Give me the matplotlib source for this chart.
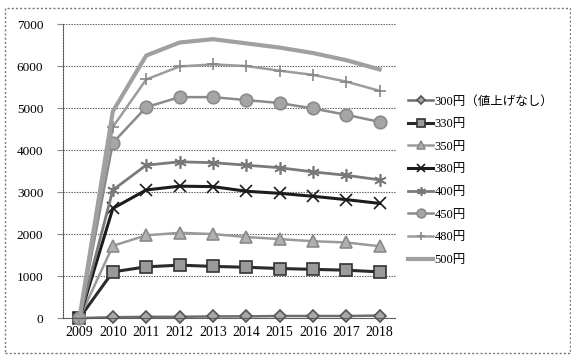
import matplotlib
matplotlib.use("Agg")
from matplotlib import pyplot as plt
from matplotlib.patches import Rectangle

plt.rcParams['font.family'] = ['Liberation Serif', 'Noto Sans CJK JP']

# Data
years = ["2009", "2010", "2011", "2012", "2013", "2014", "2015", "2016", "2017", "2018"]
labels = ["300円（値上げなし）", "330円", "350円", "380円", "400円", "450円", "480円", "500円"]
p300 = [0, 20, 30, 30, 40, 40, 50, 50, 50, 60]
p330 = [0, 1100, 1220, 1260, 1230, 1210, 1180, 1160, 1140, 1100]
p350 = [0, 1720, 1970, 2030, 2000, 1930, 1880, 1830, 1800, 1710]
p380 = [0, 2610, 3050, 3140, 3130, 3020, 2970, 2900, 2820, 2730]
p400 = [0, 3050, 3640, 3720, 3700, 3640, 3580, 3480, 3400, 3290]
p450 = [0, 4170, 5020, 5260, 5260, 5190, 5120, 4990, 4840, 4670]
p480 = [0, 4550, 5680, 5990, 6040, 6000, 5890, 5790, 5630, 5410]
p500 = [0, 4920, 6250, 6560, 6640, 6540, 6440, 6310, 6140, 5920]
yticks = [0, 1000, 2000, 3000, 4000, 5000, 6000, 7000]

series = [p300, p330, p350, p380, p400, p450, p480, p500]
# (line colour, marker, marker size, marker face, marker edge, line width)
styles = [
    ("#6e6e6e", "D", 6, "#a8a8a8", "#555555", 1.8),
    ("#2a2a2a", "s", 8, "#9a9a9a", "#333333", 2.2),
    ("#9a9a9a", "^", 8, "#b0b0b0", "#8a8a8a", 1.8),
    ("#1c1c1c", "x", 8, "#1c1c1c", "#1c1c1c", 2.2),
    ("#7a7a7a", (6, 2, 0), 9, "#777777", "#777777", 2.0),
    ("#8a8a8a", "o", 9, "#a5a5a5", "#8a8a8a", 1.8),
    ("#9c9c9c", "+", 8, "#888888", "#888888", 1.8),
    ("#a0a0a0", "None", 0, "#a0a0a0", "#a0a0a0", 3.0),
]

fig = plt.figure(figsize=(5.71, 3.59), dpi=100)
ax = fig.add_axes([0.110, 0.114, 0.584, 0.819])

x = list(range(len(years)))
handles = []
for vals, lab, st in zip(series, labels, styles):
    color, mk, ms, mfc, mec, lw = st
    h, = ax.plot(x, vals, color=color, marker=mk, markersize=ms,
                 markerfacecolor=mfc, markeredgecolor=mec, markeredgewidth=1.2,
                 linewidth=lw, label=lab, clip_on=False)
    handles.append(h)

ax.set_xlim(-0.5, len(years) - 0.5)
ax.set_ylim(0, 7000)
ax.set_xticks(x)
ax.set_xticklabels(years, fontsize=10)
ax.set_yticks(yticks)
ax.set_yticklabels([str(v) for v in yticks], fontsize=9.5)
ax.tick_params(axis="x", length=0, pad=6)
ax.tick_params(axis="y", length=4, color="#888888", pad=10)

ax.yaxis.grid(True, linestyle=(0, (1.2, 1.2)), color="#555555", linewidth=0.8)
ax.set_axisbelow(True)
for side in ("top", "right"):
    ax.spines[side].set_visible(False)
ax.spines["left"].set_linestyle((0, (1.2, 1.2)))
ax.spines["left"].set_color("#555555")
ax.spines["bottom"].set_linestyle((0, (1.2, 1.2)))
ax.spines["bottom"].set_color("#555555")

leg = fig.legend(handles=handles, labels=labels, loc="upper left",
                 bbox_to_anchor=(0.695, 0.765), frameon=False,
                 prop={"family": ['Liberation Serif', 'Noto Sans CJK JP'], "size": 9},
                 handlelength=2.0, handletextpad=0.1, labelspacing=0.85,
                 markerscale=0.7)

# chart area frame (scanned, dotted)
fig.patches.append(Rectangle((0.009, 0.017), 0.99, 0.96, transform=fig.transFigure,
                             fill=False, edgecolor="#777777", linewidth=1.0,
                             linestyle=(0, (1.5, 1.5))))

fig.savefig("out.png", dpi=100)
